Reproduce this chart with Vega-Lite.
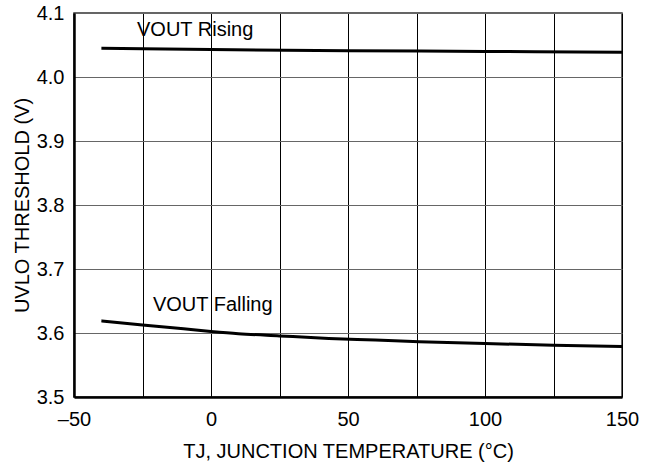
{
  "$schema": "https://vega.github.io/schema/vega-lite/v6.json",
  "width": 548,
  "height": 384,
  "autosize": "none",
  "padding": {"left": 74, "top": 13, "right": 25, "bottom": 76},
  "background": "white",
  "config": {
    "font": "Liberation Sans",
    "view": {"stroke": "#333333", "strokeWidth": 1.5}
  },
  "datasets": {
    "curves": [
      {"t": -40, "v": 4.045, "series": "Rising"},
      {"t": 0, "v": 4.043, "series": "Rising"},
      {"t": 50, "v": 4.041, "series": "Rising"},
      {"t": 100, "v": 4.040, "series": "Rising"},
      {"t": 150, "v": 4.0386, "series": "Rising"},
      {"t": -40, "v": 3.619, "series": "Falling"},
      {"t": -25, "v": 3.6125, "series": "Falling"},
      {"t": -10, "v": 3.6065, "series": "Falling"},
      {"t": 0, "v": 3.6025, "series": "Falling"},
      {"t": 10, "v": 3.599, "series": "Falling"},
      {"t": 25, "v": 3.5955, "series": "Falling"},
      {"t": 43, "v": 3.5915, "series": "Falling"},
      {"t": 60, "v": 3.589, "series": "Falling"},
      {"t": 76, "v": 3.5865, "series": "Falling"},
      {"t": 100, "v": 3.5835, "series": "Falling"},
      {"t": 125, "v": 3.581, "series": "Falling"},
      {"t": 150, "v": 3.579, "series": "Falling"}
    ],
    "labels": [
      {"t": -27, "v": 4.064, "label": "VOUT Rising"},
      {"t": -21.2, "v": 3.6344, "label": "VOUT Falling"}
    ]
  },
  "layer": [
    {
      "data": {"name": "curves"},
      "mark": {"type": "line", "color": "black", "strokeWidth": 3, "interpolate": "monotone"},
      "encoding": {
        "x": {
          "field": "t", "type": "quantitative",
          "scale": {"domain": [-50, 150], "nice": false, "zero": false},
          "axis": {
            "values": [-50, -25, 0, 25, 50, 75, 100, 125, 150],
            "labelExpr": "datum.value % 50 === 0 ? replace(datum.label, '−', '–') : ''",
            "title": "TJ, JUNCTION TEMPERATURE (°C)",
            "titleFont": "Liberation Sans", "titleFontSize": 20, "titleFontWeight": "normal", "titleColor": "black",
            "titlePadding": 12,
            "labelFont": "Liberation Sans", "labelFontSize": 20, "labelColor": "black", "labelPadding": 12,
            "labelFlush": false, "labelOverlap": false,
            "ticks": false,
            "grid": true, "gridColor": "black", "gridWidth": 1, "gridOpacity": 1,
            "domainColor": "black", "domainWidth": 2.5
          }
        },
        "y": {
          "field": "v", "type": "quantitative",
          "scale": {"domain": [3.5, 4.1], "nice": false, "zero": false},
          "axis": {
            "values": [3.5, 3.6, 3.7, 3.8, 3.9, 4.0, 4.1],
            "format": ".1f",
            "title": "UVLO THRESHOLD (V)",
            "titleFont": "Liberation Sans", "titleFontSize": 20, "titleFontWeight": "normal", "titleColor": "black",
            "titlePadding": 4,
            "labelFont": "Liberation Sans", "labelFontSize": 20, "labelColor": "black", "labelPadding": 10,
            "labelFlush": false,
            "ticks": false,
            "gridColor": "#666666", "gridWidth": 1, "gridOpacity": 1,
            "domainColor": "black", "domainWidth": 2.5
          }
        },
        "detail": {"field": "series"}
      }
    },
    {
      "data": {"name": "labels"},
      "mark": {"type": "text", "align": "left", "baseline": "alphabetic", "font": "Liberation Sans", "fontSize": 20, "color": "black"},
      "encoding": {
        "x": {"field": "t", "type": "quantitative"},
        "y": {"field": "v", "type": "quantitative"},
        "text": {"field": "label"}
      }
    }
  ]
}
